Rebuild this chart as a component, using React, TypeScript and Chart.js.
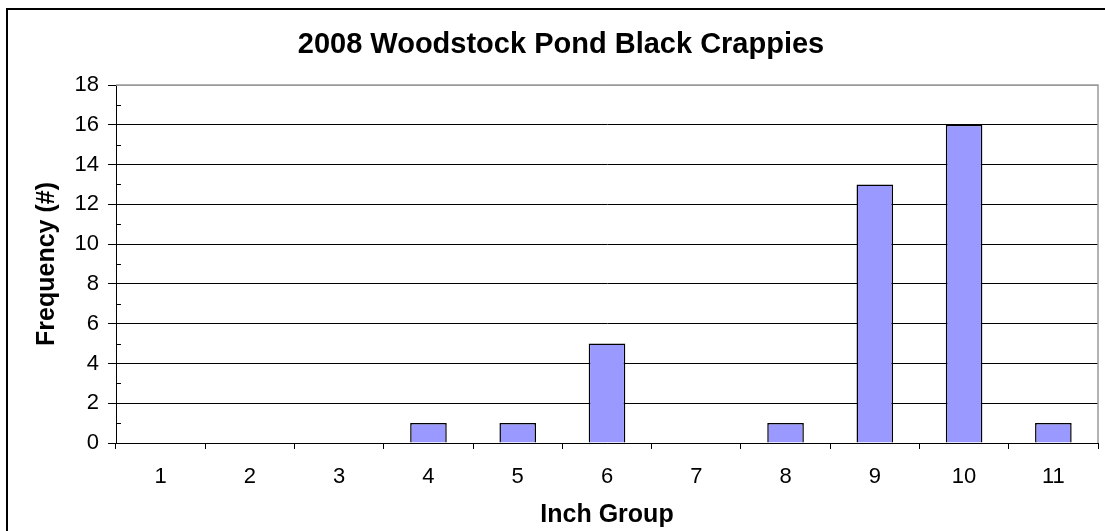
import React, { useEffect, useRef } from 'react';
import { Chart, registerables, Plugin } from 'chart.js';

Chart.register(...registerables);

const inchGroups = ['1', '2', '3', '4', '5', '6', '7', '8', '9', '10', '11'];
const frequency = [0, 0, 0, 1, 1, 5, 0, 1, 13, 16, 1];
const yMinorTicks = [1, 3, 5, 7, 9, 11, 13, 15, 17];

const FONT = "'Liberation Sans', Arial, sans-serif";

// outer frame, gray plot border and the small inside ticks on the y axis
const framePlugin: Plugin = {
  id: 'frame',
  beforeDraw(chart) {
    const { ctx, width, height } = chart;
    ctx.save();
    ctx.fillStyle = '#fff';
    ctx.fillRect(0, 0, width, height);
    ctx.strokeStyle = '#000';
    ctx.lineWidth = 2;
    ctx.strokeRect(7, 9, width + 20, height + 20);
    ctx.restore();
  },
  afterDraw(chart) {
    const { ctx, chartArea } = chart;
    const y = chart.scales.y;
    ctx.save();
    ctx.strokeStyle = '#9a9a9a';
    ctx.lineWidth = 1.5;
    ctx.beginPath();
    ctx.moveTo(chartArea.left, chartArea.top);
    ctx.lineTo(chartArea.right, chartArea.top);
    ctx.lineTo(chartArea.right, chartArea.bottom);
    ctx.stroke();
    ctx.strokeStyle = '#000';
    ctx.lineWidth = 1;
    ctx.beginPath();
    yMinorTicks.forEach(v => {
      const py = Math.round(y.getPixelForValue(v)) + 0.5;
      ctx.moveTo(chartArea.left, py);
      ctx.lineTo(chartArea.left + 5, py);
    });
    ctx.stroke();
    ctx.restore();
  },
};

const App: React.FC = () => {
  const canvasRef = useRef<HTMLCanvasElement>(null);

  useEffect(() => {
    if (!canvasRef.current) return;
    const chart = new Chart(canvasRef.current, {
      type: 'bar',
      data: {
        labels: inchGroups,
        datasets: [{
          data: frequency,
          backgroundColor: '#9999FF',
          borderColor: '#000',
          borderWidth: 1.5,
          barPercentage: 0.41,
          categoryPercentage: 1,
        }],
      },
      options: {
        animation: false,
        responsive: true,
        maintainAspectRatio: false,
        devicePixelRatio: 1,
        layout: { padding: { left: 24, right: 7, top: 0, bottom: 0 } },
        plugins: {
          legend: { display: false },
          tooltip: { enabled: false },
          title: {
            display: true,
            text: '2008 Woodstock Pond Black Crappies',
            color: '#000',
            font: { family: FONT, size: 29, weight: 'bold' },
            padding: { top: 27.6, bottom: 22.6 },
          },
        },
        scales: {
          x: {
            offset: true,
            afterFit: (scale: any) => { scale.height = 88; },
            grid: {
              offset: true,
              drawOnChartArea: false,
              tickLength: 6,
              tickColor: '#000',
            },
            border: { display: true, color: '#000', width: 1 },
            ticks: {
              color: '#000',
              font: { family: FONT, size: 22 },
              padding: 15,
              maxRotation: 0,
            },
            title: {
              display: true,
              text: 'Inch Group',
              color: '#000',
              font: { family: FONT, size: 25, weight: 'bold' },
              padding: { top: 0, bottom: 1 },
            },
          },
          y: {
            min: 0,
            max: 18,
            afterFit: (scale: any) => { scale.width = 92; },
            grid: {
              color: (ctx: any) => (ctx.tick && ctx.tick.value === 18 ? '#9a9a9a' : '#000'),
              tickColor: '#000',
              tickLength: 8,
              lineWidth: 1,
            },
            border: { display: true, color: '#000', width: 1 },
            ticks: {
              stepSize: 2,
              color: '#000',
              font: { family: FONT, size: 22 },
              padding: 9,
            },
            title: {
              display: true,
              text: 'Frequency (#)',
              color: '#000',
              font: { family: FONT, size: 25, weight: 'bold' },
              padding: { top: 8, bottom: 0 },
            },
          },
        },
      },
      plugins: [framePlugin],
    });
    return () => chart.destroy();
  }, []);

  return (
    <div style={{ position: 'fixed', left: 0, top: 0, width: 1105, height: 531, background: '#fff' }}>
      <canvas ref={canvasRef}></canvas>
    </div>
  );
};

export default App;
